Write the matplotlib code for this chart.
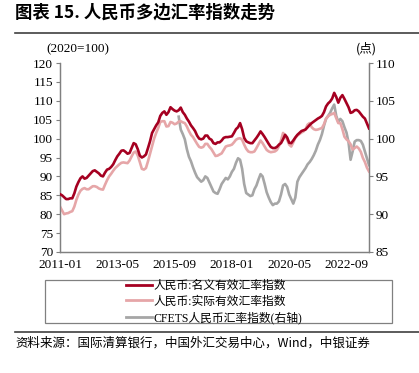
import numpy as np
import matplotlib
matplotlib.use('Agg')
import matplotlib.pyplot as plt
from matplotlib.patches import Rectangle
from matplotlib.lines import Line2D

plt.rcParams['font.family'] = ['Liberation Serif', 'Noto Sans CJK SC']

# 月度数据 2011-01 ~ 2023-08
START_YEAR, START_MONTH = 2011, 1

neer = [
    85.3, 85.0, 84.5, 84.0, 84.0, 84.2, 84.2, 85.5, 87.3, 88.5, 89.5, 90.0,
    89.4, 89.6, 90.2, 90.8, 91.4, 91.6, 91.2, 90.8, 90.2, 90.0, 91.0, 91.8,
    92.0, 92.5, 93.2, 94.3, 95.3, 96.0, 96.8, 96.9, 96.5, 96.0, 96.2, 97.5,
    98.8, 98.5, 97.2, 95.5, 95.0, 95.3, 95.8, 97.5, 99.3, 101.5, 102.5, 103.5,
    104.3, 106.0, 106.8, 107.2, 106.3, 107.0, 108.3, 107.8, 107.4, 107.2, 107.5, 108.2,
    107.0, 106.3, 105.3, 104.5, 103.5, 102.8, 102.0, 100.8, 100.0, 99.8, 100.0, 100.8,
    100.8, 100.0, 99.7, 98.8, 98.6, 99.0, 99.0, 99.5, 100.2, 100.4, 100.4, 100.5,
    100.6, 101.5, 102.5, 103.0, 104.1, 102.5, 100.2, 99.3, 99.0, 98.8, 98.8, 99.5,
    100.2, 101.0, 101.9, 101.2, 100.4, 99.5, 98.6, 97.8, 97.5, 97.5, 97.8, 98.4,
    98.8, 99.8, 101.0, 100.3, 98.9, 98.8, 99.5, 100.3, 101.0, 101.5, 102.0, 102.2,
    102.4, 103.0, 103.6, 104.1, 104.5, 104.9, 105.3, 105.6, 106.0, 107.0, 108.5, 109.3,
    109.8, 110.6, 112.1, 111.0, 109.5, 110.8, 111.5, 110.5, 109.4, 108.3, 106.8, 107.0,
    107.5, 107.6, 107.2, 106.5, 105.8, 105.3, 104.0, 102.7,
]

reer = [
    82.0, 81.0, 80.0, 80.2, 80.3, 80.6, 80.8, 82.0, 83.8, 85.2, 86.2, 86.7,
    86.9, 86.6, 86.6, 87.0, 87.4, 87.4, 87.2, 86.8, 86.6, 86.5, 87.8, 89.0,
    90.0, 90.7, 91.5, 92.2, 92.7, 93.2, 93.6, 93.7, 93.6, 93.5, 94.2, 95.3,
    96.3, 96.6, 95.5, 93.8, 92.0, 91.8, 92.2, 94.0, 96.0, 98.0, 100.0, 101.5,
    102.8, 104.4, 104.6, 104.6, 103.2, 103.3, 104.4, 104.2, 103.8, 104.0, 104.5, 104.6,
    104.3, 104.1, 103.2, 102.0, 101.0, 100.4, 99.5, 98.6, 97.8, 97.6, 97.8, 98.6,
    98.6, 97.8, 97.2, 96.3, 95.4, 95.5, 95.8, 96.1, 97.0, 97.9, 98.1, 98.2,
    98.4, 99.0, 99.7, 100.0, 100.1, 99.7, 98.4, 97.3, 96.6, 96.4, 96.4, 96.6,
    97.5, 98.5, 99.5, 98.8, 97.9, 97.0, 96.6, 96.4, 96.5, 96.6, 97.0, 98.0,
    99.5, 101.5, 100.8, 99.7, 98.4, 97.9, 99.0, 100.2, 100.8, 101.2, 101.6, 101.9,
    102.5, 103.7, 104.1, 103.0, 102.5, 102.3, 102.4, 102.6, 102.8, 103.8, 105.3, 105.9,
    106.3, 106.5, 106.8, 105.4, 104.1, 104.1, 102.5, 100.5, 99.8, 99.3, 98.5, 97.1,
    97.5, 97.9, 97.4, 96.5, 94.9, 93.8, 92.3, 91.3,
]

# CFETS 从 2015-11 开始
cfets_start = 58
cfets = [
    102.9, 101.2, 100.6, 99.9, 98.6, 97.6, 97.0, 96.2, 95.5, 94.9, 94.6, 94.3,
    94.5, 95.0, 94.8, 94.2, 93.6, 93.0, 92.8, 92.7, 93.3, 94.0, 94.4, 94.8,
    94.6, 95.0, 95.6, 96.0, 96.8, 97.4, 97.2, 96.0, 94.0, 92.8, 92.6, 92.4,
    92.5, 93.3, 93.8, 94.6, 95.3, 95.0, 94.0, 92.9, 92.2, 91.6, 91.2, 91.4,
    91.4, 91.7, 92.6, 93.8, 94.0, 93.6, 92.6, 92.0, 91.4, 92.2, 94.3, 94.9,
    95.3, 95.7, 96.1, 96.6, 96.9, 97.3, 97.8, 98.4, 99.2, 99.8, 100.6, 101.7,
    102.6, 103.0, 103.4, 104.0, 104.5, 103.0, 102.2, 102.6, 102.3, 101.5, 100.8, 99.5,
    97.2, 98.3, 99.6, 99.8, 99.8, 99.7, 99.2, 98.3, 97.4, 96.5,
]

tick_pos = [0, 28, 56, 84, 112, 140]
tick_labels = ['2011-01', '2013-05', '2015-09', '2018-01', '2020-05', '2022-09']

labels = ['人民币:名义有效汇率指数', '人民币:实际有效汇率指数', 'CFETS人民币汇率指数(右轴)']
colors = ['#A50021', '#E6A6A8', '#A6A6A6']

x = np.arange(len(neer))
xc = np.arange(cfets_start, cfets_start + len(cfets))

W, H = 419, 373
fig = plt.figure(figsize=(W / 100, H / 100), dpi=100)
ax = fig.add_axes([60 / W, 1 - 252 / H, (369 - 60) / W, (252 - 63) / H])
ax2 = ax.twinx()

ax.plot(x, reer, color=colors[1], lw=1.9, zorder=2)
ax.plot(x, neer, color=colors[0], lw=1.9, zorder=3)
ax2.plot(xc, cfets, color=colors[2], lw=1.9)
ax.set_zorder(ax2.get_zorder() + 1)
ax.patch.set_visible(False)

ax.set_xlim(0, len(neer) - 1)
ax.set_ylim(70, 120)
ax2.set_ylim(85, 110)
ax.set_yticks(np.arange(70, 121, 5))
ax2.set_yticks(np.arange(85, 111, 5))
ax.set_xticks(tick_pos)
ax.set_xticklabels(tick_labels)

spine_c = '#808080'
for a in (ax, ax2):
    a.spines['top'].set_visible(False)
    for s in ('left', 'right', 'bottom'):
        a.spines[s].set_color(spine_c)
        a.spines[s].set_linewidth(0.9)
    a.tick_params(axis='y', labelsize=9.5, length=3, color=spine_c, pad=2)
ax.tick_params(axis='x', labelsize=9.5, length=0, pad=5)

# 标题与注释
fig.text(15 / W, 1 - 13 / H, '图表 15. 人民币多边汇率指数走势', fontsize=12.5, fontweight='bold',
         family=['Noto Sans CJK SC'], va='center', ha='left')
fig.add_artist(Line2D([15 / W, 1], [1 - 33 / H, 1 - 33 / H], color='#404040', lw=1.2))
fig.text(78 / W, 1 - 49 / H, '(2020=100)', fontsize=9.5, ha='center', va='center')
fig.text(366 / W, 1 - 49 / H, '(点)', fontsize=9, ha='center', va='center',
         family=['Noto Sans CJK SC'])

# 图例
fig.add_artist(Rectangle((45 / W, 1 - 323 / H), (392 - 45) / W, (323 - 280) / H,
                         transform=fig.transFigure, fill=False, ec='#808080', lw=0.9))
handles = [Line2D([], [], color=c, lw=2) for c in colors]
fig.legend(handles, labels, loc='center', bbox_to_anchor=(214 / W, 1 - 302 / H),
           frameon=False, handlelength=2.2, handletextpad=0.1,
           labelspacing=0.3, borderpad=0,
           prop={'family': ['Liberation Serif', 'Noto Sans CJK SC'], 'size': 8.5})

fig.add_artist(Line2D([15 / W, 1], [1 - 332 / H, 1 - 332 / H], color='#404040', lw=1.2))
fig.text(15 / W, 1 - 343 / H, '资料来源：国际清算银行，中国外汇交易中心，Wind，中银证券',
         fontsize=9, ha='left', va='center', family=['Noto Sans CJK SC'])

fig.savefig('out.png', dpi=100)
